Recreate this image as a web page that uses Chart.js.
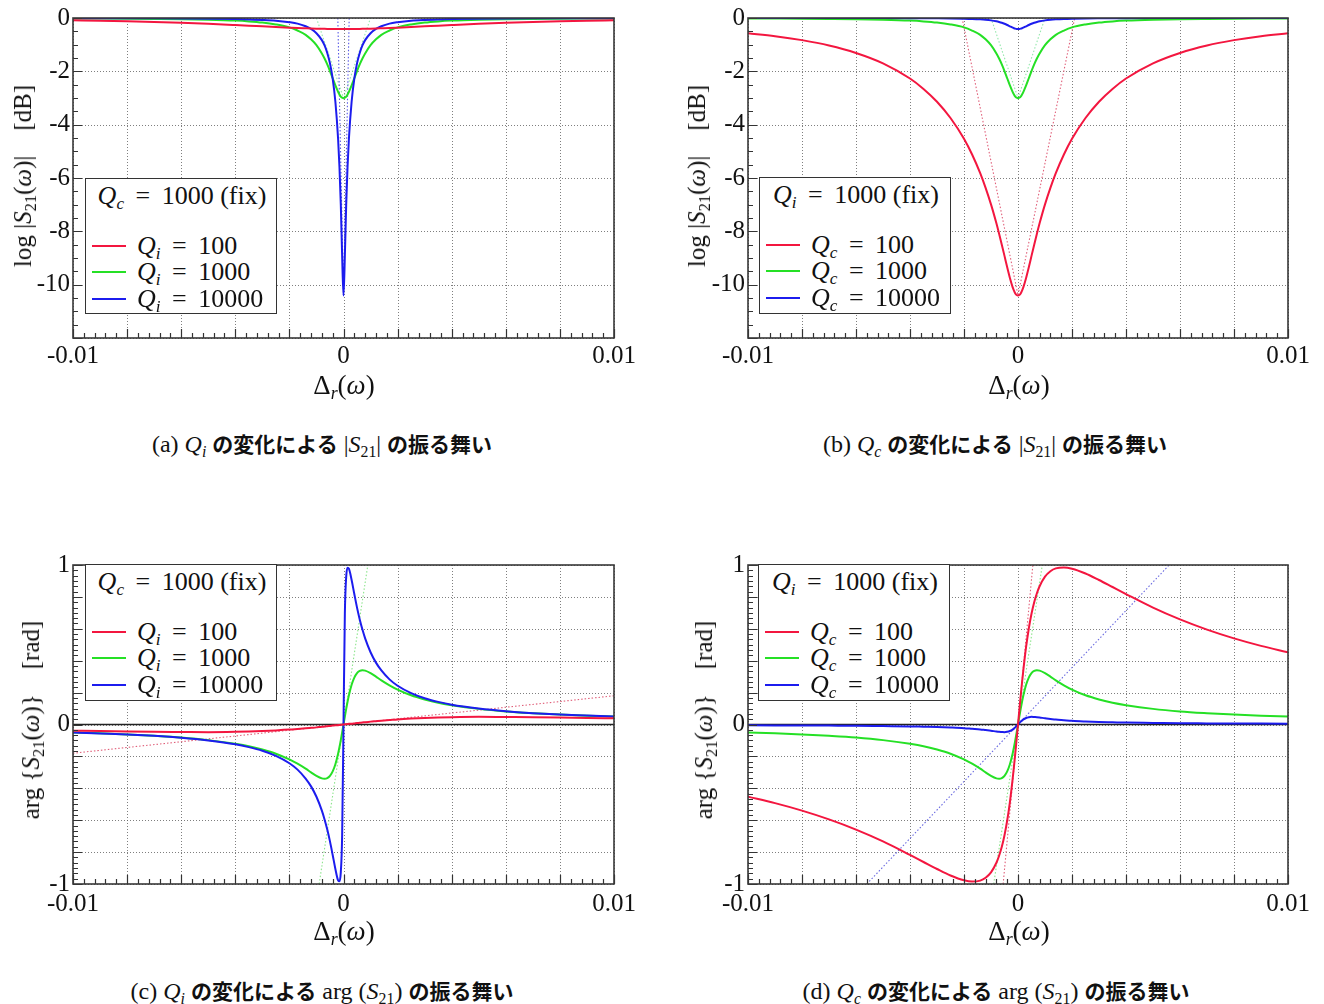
<!DOCTYPE html>
<html>
<head>
<meta charset="utf-8">
<script src="https://cdn.jsdelivr.net/npm/chart.js@4.4.1/dist/chart.umd.min.js"></script>
<style>
  body { margin: 0; background: #fff; width: 1324px; height: 1004px; position: relative; overflow: hidden;
         font-family: "Liberation Serif", "DejaVu Serif", serif; color: #111; }
  canvas { position: absolute; }
  .t { position: absolute; white-space: nowrap; transform: translate(-50%, -50%); }
  .rot { transform: translate(-50%, -50%) rotate(-90deg); }
  .xt { font-size: 27px; }
  .yt { font-size: 25px; }
  sub { font-size: 66%; vertical-align: -0.3em; line-height: 0; }
  .jp { font-family: "Noto Sans CJK JP", sans-serif; font-weight: 700; font-size: 21px; }
  .cap { font-size: 24px; }
  .eq { margin: 0 5px; }
  .leg { position: absolute; background: #fff; border: 1.5px solid #333; box-sizing: border-box; font-size: 26px; }
  .leg .row { position: absolute; left: 0; white-space: nowrap; transform: translateY(-50%); }
  .leg .sw { position: absolute; width: 34px; height: 2px; }
  .leg .title { position: absolute; white-space: nowrap; transform: translate(-50%, -50%); }
</style>
</head>
<body>

<canvas id="ca" width="660" height="380" style="left:0;top:0"></canvas>
<canvas id="cb" width="649" height="380" style="left:675px;top:0"></canvas>
<canvas id="cc" width="660" height="379" style="left:0;top:547px"></canvas>
<canvas id="cd" width="649" height="379" style="left:675px;top:547px"></canvas>

<!-- axis titles -->
<div class="t xt" style="left:344px;top:385px">Δ<sub><i>r</i></sub>(<i>ω</i>)</div>
<div class="t xt" style="left:1019px;top:385px">Δ<sub><i>r</i></sub>(<i>ω</i>)</div>
<div class="t xt" style="left:344px;top:931px">Δ<sub><i>r</i></sub>(<i>ω</i>)</div>
<div class="t xt" style="left:1019px;top:931px">Δ<sub><i>r</i></sub>(<i>ω</i>)</div>

<div class="t yt rot" style="left:23px;top:176px">log |<i>S</i><sub>21</sub>(<i>ω</i>)|&nbsp;&nbsp;&nbsp;&nbsp;[dB]</div>
<div class="t yt rot" style="left:697px;top:176px">log |<i>S</i><sub>21</sub>(<i>ω</i>)|&nbsp;&nbsp;&nbsp;&nbsp;[dB]</div>
<div class="t yt rot" style="left:31px;top:720px">arg {<i>S</i><sub>21</sub>(<i>ω</i>)}&nbsp;&nbsp;&nbsp;&nbsp;[rad]</div>
<div class="t yt rot" style="left:704px;top:720px">arg {<i>S</i><sub>21</sub>(<i>ω</i>)}&nbsp;&nbsp;&nbsp;&nbsp;[rad]</div>

<!-- captions -->
<div class="t cap" style="left:322px;top:443px">(a) <i>Q</i><sub><i>i</i></sub> <span class="jp">の変化による</span> |<i>S</i><sub>21</sub>| <span class="jp">の振る舞い</span></div>
<div class="t cap" style="left:995px;top:443px">(b) <i>Q</i><sub><i>c</i></sub> <span class="jp">の変化による</span> |<i>S</i><sub>21</sub>| <span class="jp">の振る舞い</span></div>
<div class="t cap" style="left:322px;top:990px">(c) <i>Q</i><sub><i>i</i></sub> <span class="jp">の変化による</span> arg (<i>S</i><sub>21</sub>) <span class="jp">の振る舞い</span></div>
<div class="t cap" style="left:996px;top:990px">(d) <i>Q</i><sub><i>c</i></sub> <span class="jp">の変化による</span> arg (<i>S</i><sub>21</sub>) <span class="jp">の振る舞い</span></div>

<div id="legends"></div>

<script>
// detuning axis (shared by every curve)
const xs = [-0.01,-0.009,-0.008,-0.007,-0.006,-0.005,-0.004,-0.0035,-0.003,-0.0025,-0.002,-0.0017,-0.0014,-0.0012,-0.001,-0.0008,-0.0007,-0.0006,-0.0005,-0.0004,-0.0003,-0.0002,-0.00015,-0.0001,-0.00005,
  0,0.00005,0.0001,0.00015,0.0002,0.0003,0.0004,0.0005,0.0006,0.0007,0.0008,0.001,0.0012,0.0014,0.0017,0.002,0.0025,0.003,0.0035,0.004,0.005,0.006,0.007,0.008,0.009,0.01];

// (a) log|S21| [dB], Qc = 1000 fixed
const magQi100 = [-0.089,-0.105,-0.124,-0.149,-0.179,-0.217,-0.262,-0.286,-0.312,-0.337,-0.361,-0.375,-0.386,-0.393,-0.399,-0.404,-0.407,-0.409,-0.410,-0.412,-0.413,-0.413,-0.414,-0.414,-0.414,
  -0.414,-0.414,-0.414,-0.414,-0.413,-0.413,-0.412,-0.410,-0.409,-0.407,-0.404,-0.399,-0.393,-0.386,-0.375,-0.361,-0.337,-0.312,-0.286,-0.262,-0.217,-0.179,-0.149,-0.124,-0.105,-0.089];
const magQi1000 = [-0.016,-0.020,-0.025,-0.033,-0.044,-0.064,-0.098,-0.127,-0.17,-0.24,-0.35,-0.47,-0.63,-0.80,-1.02,-1.33,-1.52,-1.74,-1.99,-2.26,-2.53,-2.77,-2.87,-2.95,-2.99,
  -3.01,-2.99,-2.95,-2.87,-2.77,-2.53,-2.26,-1.99,-1.74,-1.52,-1.33,-1.02,-0.80,-0.63,-0.47,-0.35,-0.24,-0.17,-0.127,-0.098,-0.064,-0.044,-0.033,-0.025,-0.020,-0.016];
const magQi10000 = [-0.0065,-0.008,-0.010,-0.013,-0.018,-0.026,-0.040,-0.053,-0.071,-0.10,-0.157,-0.21,-0.31,-0.41,-0.57,-0.83,-1.03,-1.31,-1.70,-2.27,-3.14,-4.53,-5.57,-6.99,-8.92,
  -10.41,-8.92,-6.99,-5.57,-4.53,-3.14,-2.27,-1.70,-1.31,-1.03,-0.83,-0.57,-0.41,-0.31,-0.21,-0.157,-0.10,-0.071,-0.053,-0.040,-0.026,-0.018,-0.013,-0.010,-0.008,-0.0065];

// (b) log|S21| [dB], Qi = 1000 fixed
const magQc100 = [-0.57,-0.68,-0.83,-1.03,-1.31,-1.70,-2.27,-2.66,-3.14,-3.75,-4.53,-5.12,-5.82,-6.37,-6.99,-7.70,-8.09,-8.50,-8.92,-9.35,-9.75,-10.09,-10.22,-10.33,-10.39,
  -10.41,-10.39,-10.33,-10.22,-10.09,-9.75,-9.35,-8.92,-8.50,-8.09,-7.70,-6.99,-6.37,-5.82,-5.12,-4.53,-3.75,-3.14,-2.66,-2.27,-1.70,-1.31,-1.03,-0.83,-0.68,-0.57];
const magQc1000 = [-0.016,-0.020,-0.025,-0.033,-0.044,-0.064,-0.098,-0.127,-0.17,-0.24,-0.35,-0.47,-0.63,-0.80,-1.02,-1.33,-1.52,-1.74,-1.99,-2.26,-2.53,-2.77,-2.87,-2.95,-2.99,
  -3.01,-2.99,-2.95,-2.87,-2.77,-2.53,-2.26,-1.99,-1.74,-1.52,-1.33,-1.02,-0.80,-0.63,-0.47,-0.35,-0.24,-0.17,-0.127,-0.098,-0.064,-0.044,-0.033,-0.025,-0.020,-0.016];
const magQc10000 = [-0.0011,-0.0014,-0.0018,-0.0023,-0.003,-0.0045,-0.007,-0.009,-0.012,-0.017,-0.027,-0.036,-0.051,-0.066,-0.089,-0.124,-0.149,-0.179,-0.217,-0.262,-0.312,-0.361,-0.383,-0.399,-0.410,
  -0.414,-0.410,-0.399,-0.383,-0.361,-0.312,-0.262,-0.217,-0.179,-0.149,-0.124,-0.089,-0.066,-0.051,-0.036,-0.027,-0.017,-0.012,-0.009,-0.007,-0.0045,-0.003,-0.0023,-0.0018,-0.0014,-0.0011];

// (c) arg S21 [rad], Qc = 1000 fixed
const argQi100 = [-0.039,-0.041,-0.044,-0.046,-0.047,-0.048,-0.046,-0.044,-0.041,-0.037,-0.032,-0.028,-0.024,-0.021,-0.018,-0.014,-0.013,-0.011,-0.009,-0.007,-0.005,-0.004,-0.003,-0.002,-0.001,
  0,0.001,0.002,0.003,0.004,0.005,0.007,0.009,0.011,0.013,0.014,0.018,0.021,0.024,0.028,0.032,0.037,0.041,0.044,0.046,0.048,0.047,0.046,0.044,0.041,0.039];
const argQi1000 = [-0.050,-0.055,-0.062,-0.071,-0.082,-0.098,-0.121,-0.136,-0.157,-0.183,-0.219,-0.246,-0.277,-0.300,-0.322,-0.338,-0.340,-0.336,-0.322,-0.294,-0.249,-0.183,-0.143,-0.098,-0.050,
  0,0.050,0.098,0.143,0.183,0.249,0.294,0.322,0.336,0.340,0.338,0.322,0.300,0.277,0.246,0.219,0.183,0.157,0.136,0.121,0.098,0.082,0.071,0.062,0.055,0.050];
const argQi10000 = [-0.050,-0.056,-0.062,-0.071,-0.083,-0.100,-0.124,-0.142,-0.165,-0.197,-0.243,-0.283,-0.339,-0.388,-0.453,-0.540,-0.595,-0.659,-0.733,-0.818,-0.906,-0.977,-0.983,-0.927,-0.694,
  0,0.694,0.927,0.983,0.977,0.906,0.818,0.733,0.659,0.595,0.540,0.453,0.388,0.339,0.283,0.243,0.197,0.165,0.142,0.124,0.100,0.083,0.071,0.062,0.056,0.050];

// (d) arg S21 [rad], Qi = 1000 fixed
const argQc100 = [-0.453,-0.493,-0.540,-0.595,-0.659,-0.733,-0.818,-0.862,-0.906,-0.947,-0.977,-0.985,-0.979,-0.961,-0.927,-0.867,-0.823,-0.767,-0.694,-0.602,-0.486,-0.344,-0.264,-0.179,-0.091,
  0,0.091,0.179,0.264,0.344,0.486,0.602,0.694,0.767,0.823,0.867,0.927,0.961,0.979,0.985,0.977,0.947,0.906,0.862,0.818,0.733,0.659,0.595,0.540,0.493,0.453];
const argQc1000 = [-0.050,-0.055,-0.062,-0.071,-0.082,-0.098,-0.121,-0.136,-0.157,-0.183,-0.219,-0.246,-0.277,-0.300,-0.322,-0.338,-0.340,-0.336,-0.322,-0.294,-0.249,-0.183,-0.143,-0.098,-0.050,
  0,0.050,0.098,0.143,0.183,0.249,0.294,0.322,0.336,0.340,0.338,0.322,0.300,0.277,0.246,0.219,0.183,0.157,0.136,0.121,0.098,0.082,0.071,0.062,0.055,0.050];
const argQc10000 = [-0.005,-0.0055,-0.006,-0.007,-0.008,-0.010,-0.012,-0.014,-0.016,-0.019,-0.023,-0.027,-0.031,-0.035,-0.039,-0.044,-0.046,-0.047,-0.048,-0.046,-0.041,-0.032,-0.025,-0.018,-0.009,
  0,0.009,0.018,0.025,0.032,0.041,0.046,0.048,0.047,0.046,0.044,0.039,0.035,0.031,0.027,0.023,0.019,0.016,0.014,0.012,0.010,0.008,0.007,0.006,0.0055,0.005];

// dotted guide lines [x, y]
const guideMagBlueA = [[-0.00021, 0], [0, -10.4], [0.00021, 0]];
const guideMagGreen = [[-0.001, 0], [0, -3.0], [0.001, 0]];
const guideMagRedB = [[-0.00207, 0], [0, -10.4], [0.0021, 0]];
const guideArgRedC = [[-0.01, -0.18], [0.01, 0.18]];
const guideArgGreen = [[-0.0009, -1], [0.0009, 1]];
const guideArgBlueD = [[-0.0056, -1], [0.0056, 1]];
const guideArgRedD = [[-0.00055, -1], [0.00055, 1]];

// tick values
const xTickVals = [-0.01, -0.008, -0.006, -0.004, -0.002, 0, 0.002, 0.004, 0.006, 0.008, 0.01];
const xTickLabels = ['-0.01', '', '', '', '', '0', '', '', '', '', '0.01'];
const magTickVals = [-12, -10, -8, -6, -4, -2, 0];
const magTickLabels = ['', '-10', '-8', '-6', '-4', '-2', '0'];
const argTickVals = [-1, -0.8, -0.6, -0.4, -0.2, 0, 0.2, 0.4, 0.6, 0.8, 1];
const argTickLabels = ['-1', '', '', '', '', '0', '', '', '', '', '1'];

const RED = '#f3163f', GREEN = '#25e025', BLUE = '#1c1cee';

const pts = ys => xs.map((x, i) => ({x: x, y: ys[i]}));
const gpts = g => g.map(p => ({x: p[0], y: p[1]}));

function curve(ys, color, order) {
  return {data: pts(ys), borderColor: color, borderWidth: 2, pointRadius: 0,
          cubicInterpolationMode: 'monotone', order: order};
}
function dotted(g, color) {
  return {data: gpts(g), borderColor: color, borderWidth: 1.1, borderDash: [1.5, 2],
          pointRadius: 0, tension: 0, order: 10};
}

const framePlugin = {
  id: 'frame',
  beforeDatasetsDraw(chart, args, opts) {
    const {ctx, chartArea: a, scales: {x, y}} = chart;
    ctx.save();
    ctx.strokeStyle = 'rgba(95,95,95,0.8)';
    ctx.lineWidth = 1;
    ctx.setLineDash([1, 2]);
    ctx.beginPath();
    x.ticks.forEach(t => {
      const p = Math.round(x.getPixelForValue(t.value)) + 0.5;
      ctx.moveTo(p, a.top); ctx.lineTo(p, a.bottom);
    });
    y.ticks.forEach(t => {
      const p = Math.round(y.getPixelForValue(t.value)) + 0.5;
      ctx.moveTo(a.left, p); ctx.lineTo(a.right, p);
    });
    ctx.stroke();
    ctx.setLineDash([]);
    if (opts.zeroLine) {
      const p = y.getPixelForValue(0);
      ctx.strokeStyle = '#222';
      ctx.lineWidth = 1.6;
      ctx.beginPath(); ctx.moveTo(a.left, p); ctx.lineTo(a.right, p); ctx.stroke();
    }
    ctx.restore();
  },
  afterDatasetsDraw(chart, args, opts) {
    const {ctx, chartArea: a, scales: {x, y}} = chart;
    ctx.save();
    ctx.strokeStyle = '#333';
    ctx.lineWidth = 1.2;
    ctx.beginPath();
    // inward ticks on bottom axis
    for (let i = 0; i <= 50; i++) {
      const p = Math.round(x.getPixelForValue(-0.01 + i * 0.0004)) + 0.5;
      const len = i % 5 === 0 ? 9 : 5;
      ctx.moveTo(p, a.bottom); ctx.lineTo(p, a.bottom - len);
    }
    // inward ticks on left axis
    const n = Math.round((y.max - y.min) / opts.yMinor);
    for (let i = 0; i <= n; i++) {
      const p = Math.round(y.getPixelForValue(y.min + i * opts.yMinor)) + 0.5;
      const len = i % opts.yPerMajor === 0 ? 9 : 5;
      ctx.moveTo(a.left, p); ctx.lineTo(a.left + len, p);
    }
    ctx.stroke();
    ctx.strokeStyle = '#383838';
    ctx.lineWidth = 1.6;
    ctx.strokeRect(a.left, a.top, a.right - a.left, a.bottom - a.top);
    ctx.restore();
  }
};

const tickFont = {family: '"Liberation Serif", serif', size: 25};

function makeChart(id, datasets, padRight, isArg) {
  const yVals = isArg ? argTickVals : magTickVals;
  const yLabels = isArg ? argTickLabels : magTickLabels;
  return new Chart(document.getElementById(id), {
    type: 'line',
    data: {datasets: datasets},
    options: {
      responsive: false,
      animation: false,
      events: [],
      layout: {padding: {top: 15, right: padRight, bottom: 0, left: 0}},
      plugins: {
        legend: {display: false},
        tooltip: {enabled: false},
        frame: {zeroLine: isArg, yMinor: isArg ? 0.2 / 6 : 0.5, yPerMajor: isArg ? 6 : 4}
      },
      scales: {
        x: {
          type: 'linear', min: -0.01, max: 0.01,
          afterFit: s => { s.height = 42; },
          afterBuildTicks: s => { s.ticks = xTickVals.map(v => ({value: v})); },
          grid: {display: false, drawTicks: false}, border: {display: false},
          ticks: {padding: isArg ? 5 : 3, maxRotation: 0, autoSkip: false, font: tickFont, color: '#111',
                  callback: (v, i) => xTickLabels[i]}
        },
        y: {
          type: 'linear', min: yVals[0], max: yVals[yVals.length - 1],
          afterFit: s => { s.width = 73; },
          afterBuildTicks: s => { s.ticks = yVals.map(v => ({value: v})); },
          grid: {display: false, drawTicks: false}, border: {display: false},
          ticks: {padding: 3, autoSkip: false, font: tickFont, color: '#111',
                  callback: (v, i) => yLabels[i]}
        }
      }
    },
    plugins: [framePlugin]
  });
}

makeChart('ca', [
  curve(magQi100, RED, 1), curve(magQi10000, BLUE, 2), curve(magQi1000, GREEN, 3),
  dotted(guideMagBlueA, '#5a5ae6'), dotted(guideMagGreen, 'rgba(120,225,150,0.8)')
], 46, false);

makeChart('cb', [
  curve(magQc100, RED, 1), curve(magQc10000, BLUE, 2), curve(magQc1000, GREEN, 3),
  dotted(guideMagRedB, '#e0607a'), dotted(guideMagGreen, 'rgba(120,225,150,0.8)')
], 36, false);

makeChart('cc', [
  curve(argQi100, RED, 1), curve(argQi10000, BLUE, 2), curve(argQi1000, GREEN, 3),
  dotted(guideArgRedC, '#e0607a'), dotted(guideArgGreen, 'rgba(120,225,120,0.85)')
], 46, true);

makeChart('cd', [
  curve(argQc100, RED, 1), curve(argQc10000, BLUE, 2), curve(argQc1000, GREEN, 3),
  dotted(guideArgBlueD, '#6a6ae0'), dotted(guideArgRedD, '#e0607a'), dotted(guideArgGreen, 'rgba(120,225,120,0.85)')
], 36, true);

// legends (boxes inside the plots)
function legend(left, top, w, h, fixedSym, varSym, entries) {
  const box = document.createElement('div');
  box.className = 'leg';
  box.style.cssText = `left:${left}px;top:${top}px;width:${w}px;height:${h}px`;
  let html = `<div class="title" style="left:${w / 2}px;top:17px"><i>Q</i><sub><i>${fixedSym}</i></sub> <span class="eq">=</span> 1000 (fix)</div>`;
  const rowsY = [67, 93, 120];
  entries.forEach((e, i) => {
    html += `<div class="sw" style="left:6px;top:${rowsY[i] - 1}px;background:${e[1]}"></div>` +
            `<div class="row" style="left:51px;top:${rowsY[i]}px"><i>Q</i><sub><i>${varSym}</i></sub> <span class="eq">=</span> ${e[0]}</div>`;
  });
  box.innerHTML = html;
  document.getElementById('legends').appendChild(box);
}
const legendVals = ['100', '1000', '10000'];
const legendColors = [RED, GREEN, BLUE];
const legendEntries = legendVals.map((v, i) => [v, legendColors[i]]);
legend(85, 178, 192, 136, 'c', 'i', legendEntries);
legend(759, 177, 192, 137, 'i', 'c', legendEntries);
legend(85, 564, 192, 137, 'c', 'i', legendEntries);
legend(758, 564, 192, 137, 'i', 'c', legendEntries);
</script>
</body>
</html>
